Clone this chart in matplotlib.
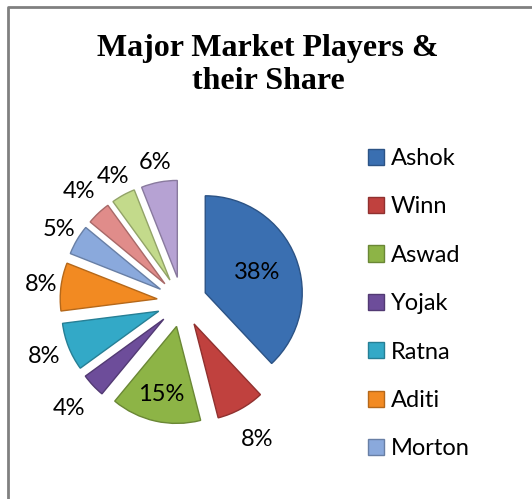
import numpy as np
import matplotlib.pyplot as plt
import matplotlib.colors as mcolors

# Data
players = ['Ashok', 'Winn', 'Aswad', 'Yojak', 'Ratna', 'Aditi', 'Morton']
shares = [38, 8, 15, 4, 8, 8, 5, 4, 4, 6]  # last three entries are cut off in the legend
pct_labels = ['38%', '8%', '15%', '4%', '8%', '8%', '5%', '4%', '4%', '6%']
# radial position of each label, as a fraction of the radius (Excel "best fit")
label_dist = [0.57, 1.36, 0.72, 1.34, 1.27, 1.21, 1.21, 1.30, 1.22, 1.21]

colors = ['#3A6FB1', '#C0413E', '#8DB446', '#6D4D9A', '#33A9C7',
          '#F28A22', '#8AA9DC', '#E08C8A', '#C3DA8B', '#B6A2D3']

W, H = 532, 499
fig = plt.figure(figsize=(W / 100, H / 100), dpi=100)
ax = fig.add_axes([0, 0, 1, 1])

cx, cy, r = 182, H - 302, 97
explode = 25  # pixels, matplotlib's explode is in data units

edge_cols = [tuple(np.array(mcolors.to_rgb(c)) * 0.75) for c in colors]
wedges, _ = ax.pie(shares, colors=colors, startangle=90, counterclock=False,
                   explode=[explode] * len(shares), radius=r, center=(cx, cy),
                   frame=True, wedgeprops=dict(linewidth=1.0))
for w, ec in zip(wedges, edge_cols):
    w.set_edgecolor(ec)

# percentage labels
for w, txt, d in zip(wedges, pct_labels, label_dist):
    th = np.deg2rad((w.theta1 + w.theta2) / 2)
    wx, wy = w.center
    ax.text(wx + d * r * np.cos(th), wy + d * r * np.sin(th), txt,
            ha='center', va='center', fontsize=17, family='Lato', color='black')

ax.set_xlim(0, W)
ax.set_ylim(0, H)
ax.set_aspect('equal')
ax.axis('off')

# chart border
ax.plot([7.5, 7.5, W], [0, H - 7, H - 7], color='#808080', lw=2, solid_capstyle='butt')

fig.text(268 / W, 1 - 65 / H, 'Major Market Players &\ntheir Share', ha='center', va='center',
         fontsize=23, fontweight='bold', family='Liberation Serif', linespacing=1.2)

leg = ax.legend(wedges[:len(players)], players, loc='upper left',
                bbox_to_anchor=(368 / W, 1 - 148 / H), bbox_transform=fig.transFigure,
                frameon=False, prop=dict(family='Lato', size=17),
                handlelength=0.68, handleheight=0.68, handletextpad=0.3,
                labelspacing=1.16, borderpad=0, borderaxespad=0)

fig.savefig('out.png', dpi=100)
